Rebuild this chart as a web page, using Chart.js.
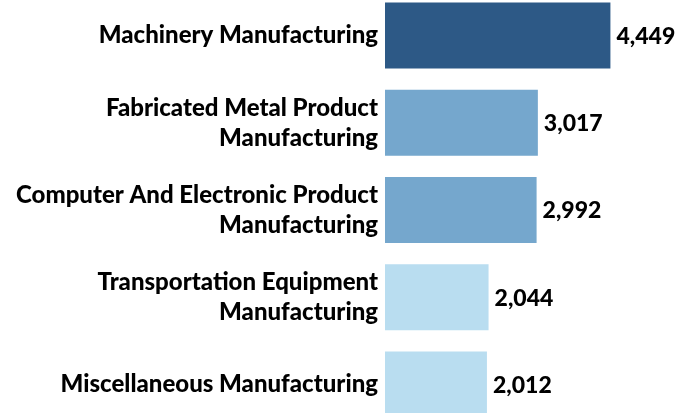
<!DOCTYPE html>
<html lang="en">
  <head>
    <meta charset="UTF-8" />
    <title>Manufacturing by Industry</title>
    <script src="https://cdn.jsdelivr.net/npm/chart.js"></script>
    <style>
      html, body { margin: 0; padding: 0; background: #fff; overflow: hidden; }
      #wrap { position: absolute; left: 0; top: -8px; width: 689px; height: 436px; }
    </style>
  </head>
  <body>
    <div id="wrap"><canvas id="barChart"></canvas></div>

    <script>
      // Data
      const categories = [
        "Machinery Manufacturing",
        ["Fabricated Metal Product", "Manufacturing"],
        ["Computer And Electronic Product", "Manufacturing"],
        ["Transportation Equipment", "Manufacturing"],
        "Miscellaneous Manufacturing",
      ];
      const values = [4449, 3017, 2992, 2044, 2012];
      const barColors = ["#2d5986", "#75a7cd", "#75a7cd", "#b9ddf0", "#b9ddf0"];

      const labelFont = { family: "Lato", weight: "900", size: 24, lineHeight: 1.25 };

      // draw the numbers just past the end of each bar
      const valueLabels = {
        id: "valueLabels",
        afterDatasetsDraw(chart) {
          const ctx = chart.ctx;
          const meta = chart.getDatasetMeta(0);
          ctx.save();
          ctx.font = "900 23px Lato";
          ctx.fillStyle = "#000";
          ctx.textAlign = "left";
          ctx.textBaseline = "middle";
          meta.data.forEach((bar, i) => {
            ctx.fillText(values[i].toLocaleString("en-US"), bar.x + 6, bar.y + 1);
          });
          ctx.restore();
        },
      };

      new Chart(document.getElementById("barChart"), {
        type: "bar",
        data: {
          labels: categories,
          datasets: [
            {
              data: values,
              backgroundColor: barColors,
              borderWidth: 0,
              barPercentage: 0.757,
              categoryPercentage: 1,
            },
          ],
        },
        options: {
          indexAxis: "y",
          responsive: true,
          maintainAspectRatio: false,
          animation: false,
          layout: { padding: 0 },
          plugins: {
            legend: { display: false },
            tooltip: { enabled: false },
          },
          scales: {
            x: {
              display: false,
              min: 0,
              max: 6000,
            },
            y: {
              grid: { display: false, drawTicks: false },
              border: { display: false },
              ticks: { color: "#000", font: labelFont, padding: 7 },
              afterFit(scale) {
                scale.width = 385;
                scale.paddingTop = 0;
                scale.paddingBottom = 0;
              },
            },
          },
        },
        plugins: [valueLabels],
      });
    </script>
  </body>
</html>
